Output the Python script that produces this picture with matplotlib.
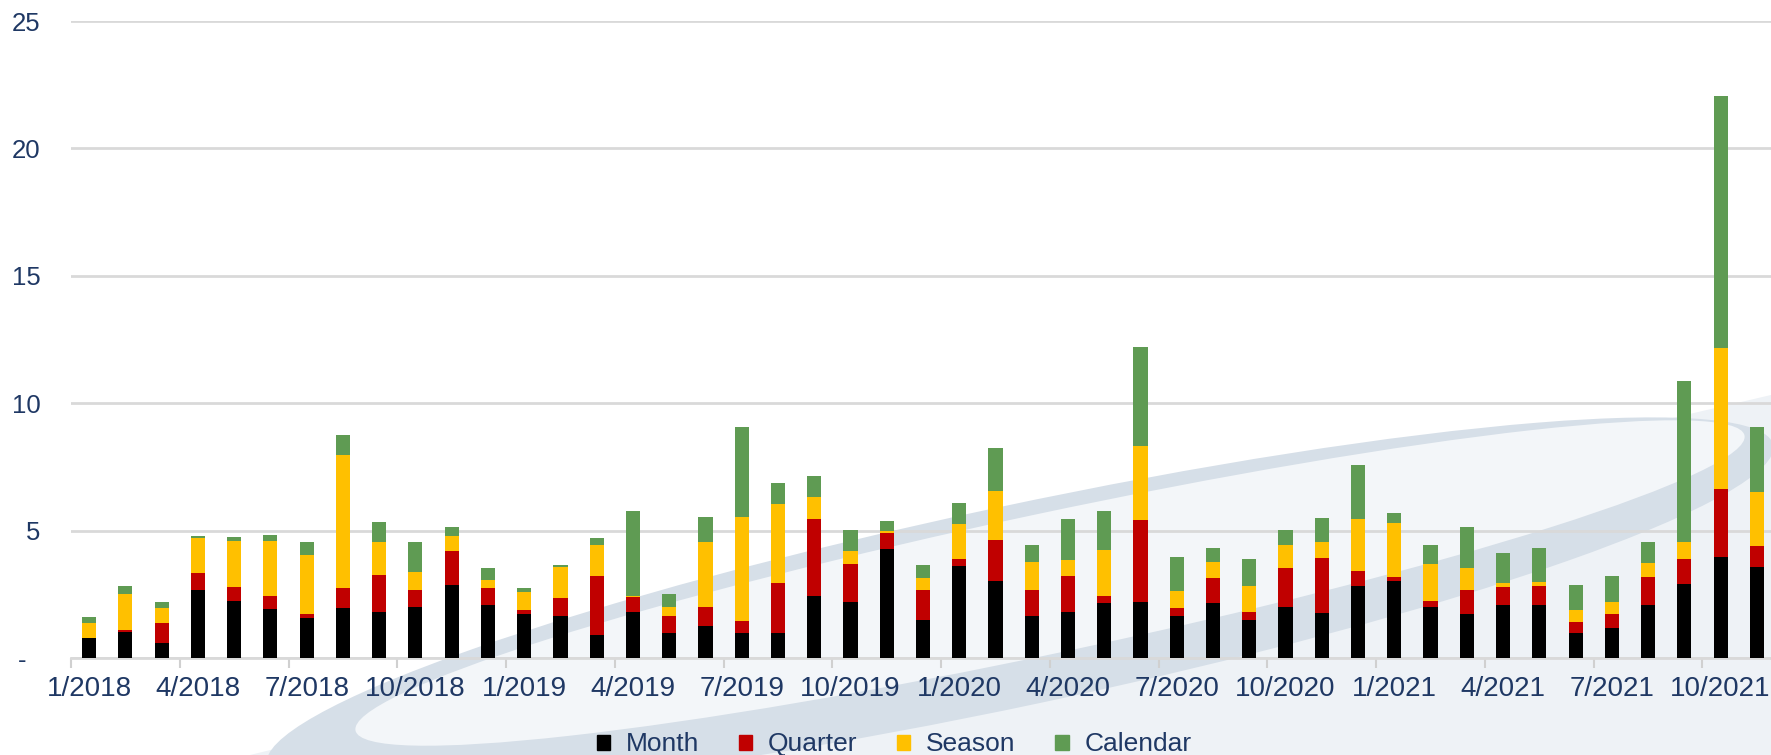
import matplotlib

matplotlib.use("Agg")

import matplotlib.patches as mpatches
import matplotlib.pyplot as plt
import numpy as np

# ---- data (monthly, 1/2018 .. 11/2021) -----------------------------------
months = [f"{m}/{y}" for y in range(2018, 2022) for m in range(1, 13)][:47]

month = [0.80, 1.02, 0.57, 2.68, 2.23, 1.91, 1.57, 1.95, 1.81, 2.00, 2.87, 2.08,
         1.72, 1.66, 0.91, 1.81, 1.00, 1.27, 1.00, 1.00, 2.42, 2.19, 4.29, 1.51,
         3.63, 3.01, 1.63, 1.81, 2.14, 2.19, 1.66, 2.14, 1.51, 2.00, 1.78, 2.82,
         3.01, 2.00, 1.72, 2.08, 2.08, 1.00, 1.17, 2.08, 2.91, 3.97, 3.57]
quarter = [0.00, 0.08, 0.81, 0.65, 0.55, 0.51, 0.15, 0.79, 1.44, 0.68, 1.33, 0.66,
           0.15, 0.70, 2.32, 0.57, 0.63, 0.73, 0.46, 1.93, 3.02, 1.50, 0.61, 1.17,
           0.25, 1.64, 1.05, 1.42, 0.28, 3.22, 0.31, 1.00, 0.30, 1.52, 2.15, 0.60,
           0.18, 0.23, 0.96, 0.70, 0.74, 0.42, 0.55, 1.11, 0.97, 2.68, 0.82]
season = [0.57, 1.41, 0.59, 1.38, 1.81, 2.17, 2.31, 5.22, 1.29, 0.70, 0.58, 0.34,
          0.72, 1.21, 1.19, 0.06, 0.37, 2.57, 4.08, 3.10, 0.87, 0.51, 0.09, 0.46,
          1.38, 1.89, 1.10, 0.61, 1.83, 2.91, 0.66, 0.64, 1.01, 0.90, 0.61, 2.02,
          2.10, 1.46, 0.84, 0.15, 0.15, 0.45, 0.47, 0.55, 0.69, 5.52, 2.11]
calendar = [0.25, 0.31, 0.22, 0.09, 0.15, 0.25, 0.51, 0.81, 0.81, 1.19, 0.36, 0.44,
            0.15, 0.08, 0.27, 3.31, 0.51, 0.97, 3.51, 0.83, 0.84, 0.83, 0.40, 0.51,
            0.83, 1.72, 0.64, 1.60, 1.50, 3.87, 1.34, 0.55, 1.06, 0.61, 0.94, 2.14,
            0.40, 0.73, 1.62, 1.21, 1.36, 1.00, 1.04, 0.80, 6.30, 9.87, 2.55]

series = [("Month", month, "#000000"),
          ("Quarter", quarter, "#C00000"),
          ("Season", season, "#FFC000"),
          ("Calendar", calendar, "#5F9B53")]

TEXT = "#1F3864"
GRID = "#D9D9D9"
W, H = 1771, 755

plt.rcParams["font.family"] = ["Liberation Sans", "DejaVu Sans"]

fig = plt.figure(figsize=(W / 100, H / 100), dpi=100, facecolor="white")

# ---- decorative background swoosh (pixel coords, y up) -------------------
bg = fig.add_axes([0, 0, 1, 1], zorder=0)
bg.set_xlim(0, W); bg.set_ylim(0, H); bg.axis("off")
bg.add_patch(mpatches.Polygon(
    [(250, 0), (1771, 0), (1771, 360), (1300, 250), (700, 110)],
    closed=True, facecolor="#EEF2F6", edgecolor="none"))
bg.add_patch(mpatches.Ellipse((1020, 150), 1540, 200, angle=12,
                              facecolor="#D6DFE8", edgecolor="none"))
bg.add_patch(mpatches.Ellipse((1050, 172), 1420, 140, angle=12,
                              facecolor="#F3F6F9", edgecolor="none"))

# ---- main chart ----------------------------------------------------------
ax = fig.add_axes([71 / W, 97 / H, 1 - 71 / W, (658 - 21) / H], zorder=1)
ax.set_facecolor("none")

x = np.arange(len(months))
bottom = np.zeros(len(months))
for name, vals, color in series:
    vals = np.array(vals)
    ax.bar(x, vals, width=0.39, bottom=bottom, color=color, label=name,
           edgecolor="none", zorder=3)
    bottom += vals

ax.set_xlim(-0.5, 46.39)
ax.set_ylim(0, 25)
ax.set_yticks([0, 5, 10, 15, 20, 25])
ax.set_yticklabels(["-  ", "5", "10", "15", "20", "25"])
ax.yaxis.grid(True, color=GRID, lw=2.0, zorder=0)
ax.set_axisbelow(True)

ax.set_xticks(x[::3])
ax.set_xticklabels(months[::3])
ax.set_xticks(np.arange(-0.5, 47, 3), minor=True)
ax.tick_params(axis="x", which="major", length=0, pad=13, labelsize=20,
               labelcolor=TEXT)
ax.tick_params(axis="x", which="minor", length=7, width=1.5, color="#D0D0D0")
ax.tick_params(axis="y", length=0, pad=22, labelsize=18.5, labelcolor=TEXT)

for s in ["top", "right", "left"]:
    ax.spines[s].set_visible(False)
ax.spines["bottom"].set_color(GRID)
ax.spines["bottom"].set_linewidth(2.0)

handles = [mpatches.Patch(color=c, label=n) for n, _, c in series]
fig.legend(handles=handles, loc="center", bbox_to_anchor=(0.505, 0.014),
           ncol=4, frameon=False, fontsize=19, labelcolor=TEXT,
           handlelength=0.5, handleheight=0.5, handletextpad=0.6,
           columnspacing=1.5)

fig.savefig("out.png", dpi=100, facecolor="white")
